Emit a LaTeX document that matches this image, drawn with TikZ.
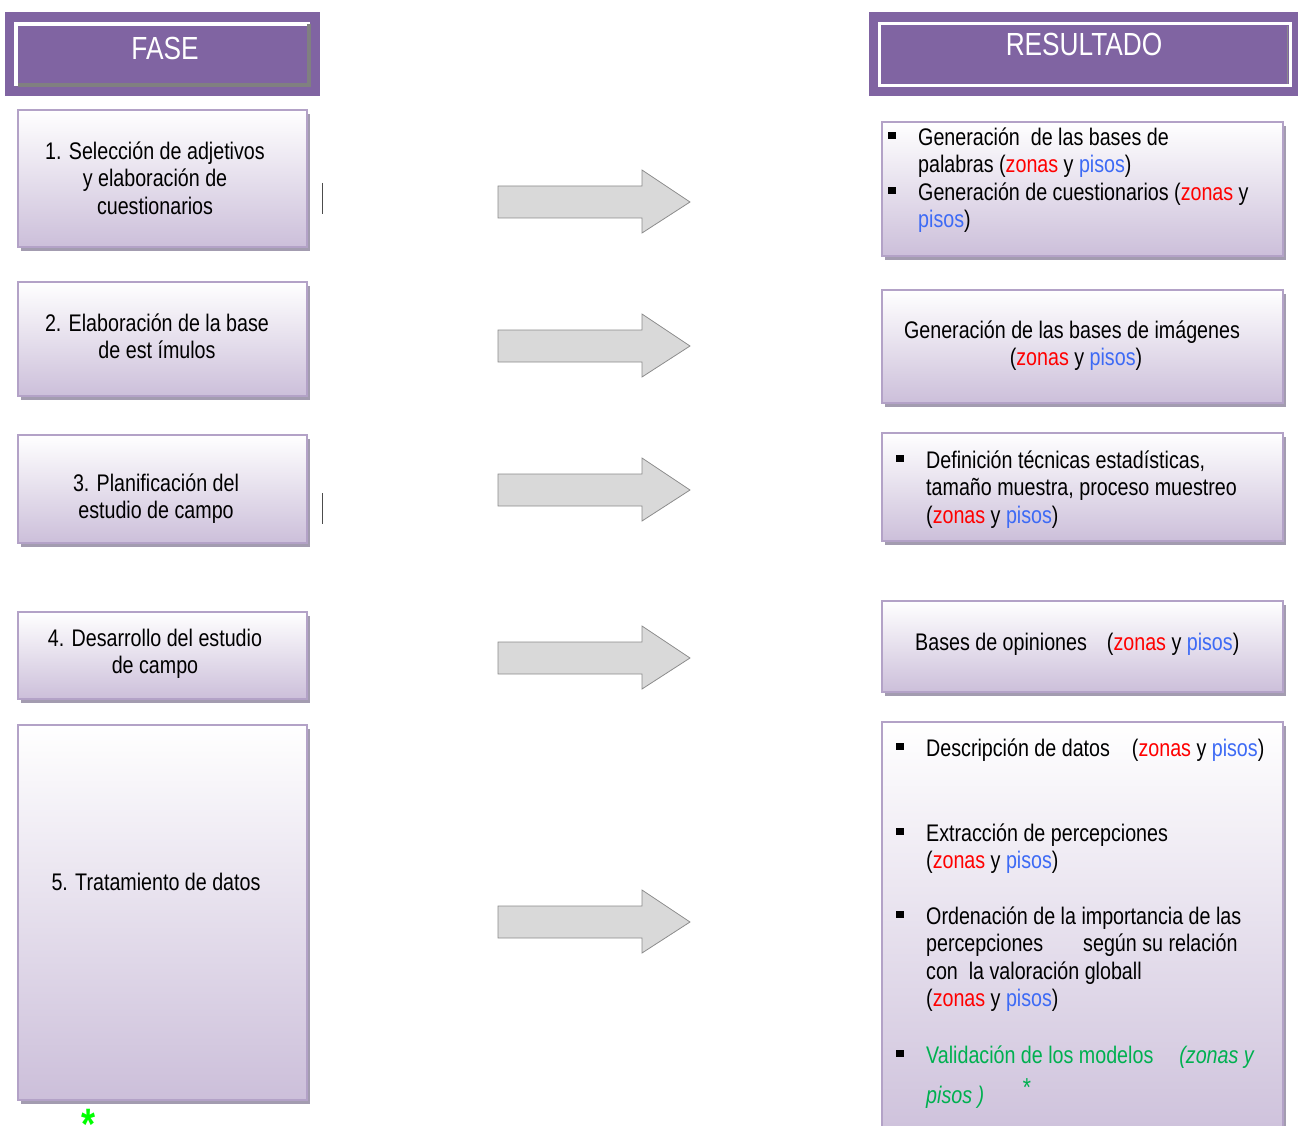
\documentclass[tikz,border=0pt]{standalone}
\usepackage{fontspec}
\setmainfont{Liberation Sans}[FakeStretch=0.82]
\usetikzlibrary{shadows}
\definecolor{hdr}{HTML}{8064A2}
\definecolor{bord}{HTML}{B3A2C7}
\definecolor{boxbot}{HTML}{CCBFDA}
\definecolor{shad}{HTML}{A39CB0}
\definecolor{zred}{HTML}{FF0000}
\definecolor{pblue}{HTML}{3D6AF5}
\definecolor{vgreen}{HTML}{00B050}
\definecolor{agreen}{HTML}{00FF00}
\definecolor{arrfill}{HTML}{D9D9D9}
\definecolor{arrline}{HTML}{8C8C8C}
\newcommand\zr{\textcolor{zred}{zonas}}
\newcommand\pb{\textcolor{pblue}{pisos}}
\newcommand\zyp{(\zr{} y \pb)}
\newcommand\bsq{\makebox[30pt][l]{\rule[6.5pt]{8pt}{7pt}}}
\newcommand\hng{\hspace*{30pt}}
\tikzset{
  stdbox/.style={draw=bord, line width=2pt, top color=white, bottom color=boxbot,
    drop shadow={shadow xshift=3pt, shadow yshift=-4pt, fill=shad, opacity=1},
    inner sep=0pt},
  hdrbox/.style={fill=hdr, draw=none, inner sep=0pt},
  txt/.style={inner sep=0pt, font=\fontsize{24}{27.5}\selectfont},
  ctxt/.style={txt, align=center, anchor=north},
  ltxt/.style={txt, align=left, anchor=north west},
  hdrtxt/.style={inner sep=0pt, text=white, font=\fontsize{32}{36}\selectfont, anchor=base},
  bigarrow/.style={fill=arrfill, draw=arrline, line width=0.8pt},
  tick/.style={draw=black!70, line width=0.8pt}
}
\newcommand\arrowat[1]{%
  \draw[bigarrow] (498,#1-16) -- (642,#1-16) -- (642,#1-32) -- (690,#1) -- (642,#1+31) -- (642,#1+16) -- (498,#1+16) -- cycle;}
\begin{document}
\begin{tikzpicture}[x=1pt,y=-1pt]
\useasboundingbox (0,0) rectangle (1298,1126);
\clip (0,0) rectangle (1298,1126);
% headers
\node[hdrbox, minimum width=315pt, minimum height=84pt] (fase) at (162.5,54) {};
\draw[white, line width=4pt] (16,86) -- (16,24) -- (310,24);
\draw[black!50, line width=4pt] (309,24) -- (309,85) -- (18,85);
\node[hdrtxt] (fasetxt) at (165,60) {FASE};
\node[hdrbox, minimum width=429pt, minimum height=84pt] (res) at (1083.5,54) {};
\draw[white, line width=3pt] (879,24) rectangle (1290,86);
\draw[black!45, line width=1pt] (1287.5,26) -- (1287.5,84.5);
\node[hdrtxt] (restxt) at (1084,56) {RESULTADO};
% left boxes
\node[stdbox, minimum width=289pt, minimum height=137pt] (l1) at (162.5,178.5) {};
\node[stdbox, minimum width=289pt, minimum height=114pt] (l2) at (162.5,339) {};
\node[stdbox, minimum width=289pt, minimum height=108pt] (l3) at (162.5,489) {};
\node[stdbox, minimum width=289pt, minimum height=87pt] (l4) at (162.5,655.5) {};
\node[stdbox, minimum width=289pt, minimum height=375pt] (l5) at (162.5,912.5) {};
\node[ctxt] (t1) at (155,139.75) {\strut 1. Selección de adjetivos\\y elaboración de\\cuestionarios};
\node[ctxt] (t2) at (157,311.75) {\strut 2. Elaboración de la base\\de est ímulos};
\node[ctxt] (t3) at (156,471.75) {\strut 3. Planificación del\\estudio de campo};
\node[ctxt] (t4) at (155,626.75) {\strut 4. Desarrollo del estudio\\de campo};
\node[ctxt] (t5) at (156,870.75) {\strut 5. Tratamiento de datos};
% small ticks
\draw[tick] (322,183) -- (322,214);
\draw[tick] (322,493) -- (322,524);
% arrows
\arrowat{202}
\arrowat{346}
\arrowat{490}
\arrowat{658}
\arrowat{922}
% right boxes
\node[stdbox, minimum width=401pt, minimum height=134pt] (r1) at (1082.5,189) {};
\node[stdbox, minimum width=401pt, minimum height=113pt] (r2) at (1082.5,346.5) {};
\node[stdbox, minimum width=401pt, minimum height=108pt] (r3) at (1082.5,487) {};
\node[stdbox, minimum width=401pt, minimum height=91pt] (r4) at (1082.5,646.5) {};
\node[stdbox, minimum width=401pt, minimum height=430pt] (r5) at (1082.5,937) {};
\node[ltxt] (s1) at (888,125.75) {\strut\bsq Generación\ \ de las bases de\\\hng palabras \zyp\\\bsq Generación de cuestionarios (\zr{} y\\\hng \pb)};
\node[ctxt] (s2) at (1072,318.75) {\strut Generación de las bases de imágenes\\\hspace*{8pt}\zyp};
\node[ltxt] (s3) at (896,448.75) {\strut\bsq Definición técnicas estadísticas,\\\hng tamaño muestra, proceso muestreo\\\hng\zyp};
\node[ltxt] (s4) at (915,630.75) {\strut Bases de opiniones\hspace{20pt}\zyp};
\node[ltxt] (s5a) at (896,736.75) {\strut\bsq Descripción de datos\hspace{22pt}\zyp};
\node[ltxt] (s5b) at (896,821.75) {\strut\bsq Extracción de percepciones\\\hng\zyp};
\node[ltxt] (s5c) at (896,904.75) {\strut\bsq Ordenación de la importancia de las\\\hng percepciones\hspace{40pt}según su relación\\\hng con\ \ la valoración globall\\\hng\zyp};
\node[ltxt, text=vgreen] (s5d) at (896,1043.75) {\strut\textcolor{black}{\bsq}Validación de los modelos\hspace{26pt}\textit{(zonas y}\\[12.5pt]\hng\textit{pisos )}};
\node[inner sep=0pt, anchor=base, text=vgreen, font=\fontsize{26}{28}\selectfont\itshape] (ast1) at (1026,1096) {*};
\node[inner sep=0pt, anchor=base, text=agreen, font=\fontsize{44}{48}\selectfont\bfseries] (ast2) at (89,1139) {*};
\end{tikzpicture}
\end{document}
